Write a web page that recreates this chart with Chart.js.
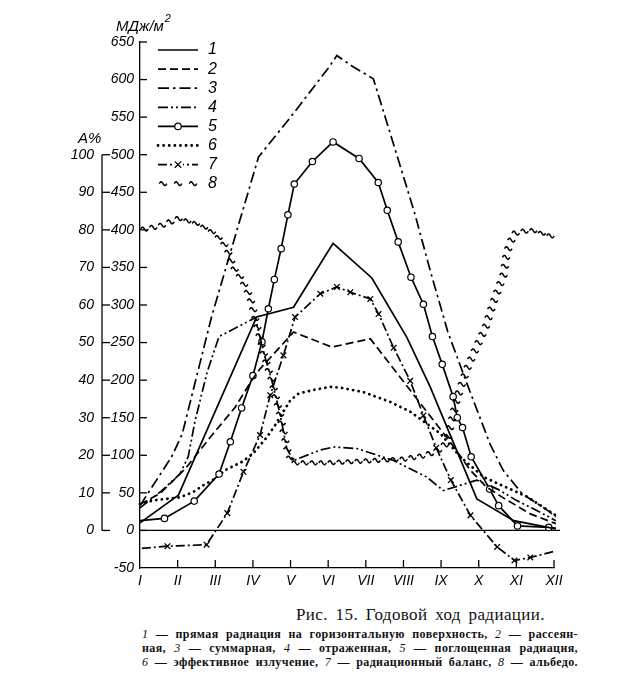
<!DOCTYPE html>
<html lang="ru">
<head>
<meta charset="UTF-8">
<title>Годовой ход радиации</title>
<script src="https://cdn.jsdelivr.net/npm/chart.js"></script>
<style>
    * { margin: 0; padding: 0; box-sizing: border-box; }

    body {
        width: 639px;
        height: 695px;
        background: #fff;
        color: #111;
        position: relative;
        overflow: hidden;
        font-family: "Liberation Serif", serif;
    }

    #wrap { position: absolute; left: 0; top: 0; width: 639px; height: 600px; }

    .title {
        position: absolute;
        left: 296px;
        top: 605px;
        font-size: 17px;
        letter-spacing: 0.4px;
        word-spacing: 3px;
    }

    .cap {
        position: absolute;
        left: 142px;
        width: 436px;
        font-size: 12px;
        font-weight: bold;
        letter-spacing: 0.4px;
        text-align: justify;
        text-align-last: justify;
        line-height: 14px;
    }

    .cap i { font-weight: normal; }
</style>
</head>
<body>

<div id="wrap"><canvas id="chart" width="639" height="600"></canvas></div>

<div class="title">Рис. 15. Годовой ход радиации.</div>
<div class="cap" style="top:627px"><i>1</i> — прямая радиация на горизонтальную поверхность, <i>2</i> — рассеян-</div>
<div class="cap" style="top:641px">ная, <i>3</i> — суммарная, <i>4</i> — отраженная, <i>5</i> — поглощенная радиация,</div>
<div class="cap" style="top:655px"><i>6</i> — эффективное излучение, <i>7</i> — радиационный баланс, <i>8</i> — альбедо.</div>

<script>
    // months on the x axis (position 0 = I ... 11 = XII)
    const months = ['I', 'II', 'III', 'IV', 'V', 'VI', 'VII', 'VIII', 'IX', 'X', 'XI', 'XII'];
    const mjTicks = [0, 50, 100, 150, 200, 250, 300, 350, 400, 450, 500, 550, 600, 650];
    const pctTicks = [0, 10, 20, 30, 40, 50, 60, 70, 80, 90, 100];
    const seriesNames = ['1', '2', '3', '4', '5', '6', '7', '8'];

    // 1 - direct radiation, MJ/m2
    const x1 = [0, 1.02, 3.1, 4.08, 4.52, 5.13, 6.16, 7.09, 7.71, 8.95, 9.93, 11.05];
    const v1 = [10, 47, 284, 297, 333, 382, 336, 257, 191, 42, 13, 2];

    // 2 - diffuse
    const x2 = [0, 0.53, 1.2, 1.9, 2.53, 2.97, 3.19, 4.08, 5.1, 6.12, 7.45, 8.24, 8.78, 9.2, 9.6, 10.37, 11.05];
    const v2 = [35, 49, 82, 126, 164, 200, 215, 264, 244, 255, 169, 118, 80, 58, 45, 22, 9];

    // 3 - total
    const x3 = [0, 0.84, 1.12, 1.9, 2.59, 3.15, 4.0, 5.0, 5.23, 5.63, 6.2, 6.78, 7.31, 7.71, 8.18, 8.69, 9.3, 9.65, 10.15, 10.82, 11.05];
    const v3 = [33, 98, 128, 284, 402, 497, 550, 615, 632, 618, 601, 507, 420, 346, 264, 195, 115, 80, 49, 27, 18];

    // 4 - reflected
    const x4 = [0, 0.58, 1.06, 1.28, 1.46, 1.78, 2.1, 3.06, 3.32, 3.5, 3.72, 3.9, 4.08, 4.79, 5.14, 5.76, 6.74, 7.62, 8.06, 8.95, 9.5, 10.0, 10.64, 11.05];
    const v4 = [30, 53, 75, 98, 145, 210, 258, 283, 231, 200, 155, 109, 93, 107, 111, 109, 93, 71, 53, 67, 55, 40, 24, 13];

    // 5 - absorbed
    const x5 = [0, 0.65, 1.44, 2.1, 2.4, 2.7, 3.0, 3.24, 3.41, 3.57, 3.75, 3.93, 4.1, 4.58, 5.13, 5.82, 6.33, 6.57, 6.86, 7.2, 7.53, 7.77, 8.03, 8.32, 8.43, 8.57, 8.8, 9.29, 9.53, 10.03, 10.86, 11.05];
    const v5 = [13, 16, 39, 75, 118, 163, 206, 251, 295, 334, 375, 420, 461, 491, 517, 495, 463, 426, 384, 337, 301, 258, 221, 178, 150, 137, 98, 55, 33, 6, 4, 3];

    // 6 - effective outgoing radiation
    const x6 = [0, 0.35, 1.06, 1.41, 1.68, 2.0, 2.26, 2.7, 3.0, 3.37, 3.59, 3.99, 4.21, 4.61, 5.05, 5.32, 5.94, 6.65, 7.18, 7.62, 7.98, 8.51, 9.13, 10.28, 11.05];
    const v6 = [35, 40, 44, 51, 60, 69, 80, 91, 102, 124, 140, 173, 182, 187, 191, 190, 184, 171, 158, 142, 129, 98, 71, 45, 20];

    // 7 - radiation balance
    const x7 = [0.05, 0.73, 1.77, 2.32, 2.75, 3.19, 3.46, 3.81, 4.12, 4.79, 5.23, 5.59, 6.12, 6.34, 6.74, 7.18, 7.53, 7.87, 8.26, 8.78, 9.49, 9.95, 10.37, 11.0];
    const v7 = [-24, -21, -19, 23, 78, 127, 180, 233, 284, 315, 324, 317, 308, 288, 243, 199, 153, 110, 67, 20, -22, -40, -36, -28];

    // 8 - albedo, %
    const x8 = [0, 0.53, 1.02, 1.42, 1.86, 2.2, 2.35, 2.48, 2.7, 2.93, 3.05, 3.32, 3.5, 3.72, 3.9, 4.03, 5.0, 6.0, 7.0, 7.6, 8.06, 8.16, 8.42, 8.69, 8.95, 9.18, 9.4, 9.66, 9.75, 9.93, 10.37, 11.05];
    const v8 = [80, 81, 83, 82, 80, 77, 74, 70, 67, 62, 57, 46, 40, 31, 22, 18, 18, 18.5, 19, 20, 22, 24, 35, 43, 49, 54, 61, 68, 74, 79, 80, 78];

    const ink = '#000';
    const italic = (size) => ({ family: 'Liberation Sans', style: 'italic', size: size });

    function pts(xs, vs) {
        return xs.map((x, i) => ({ x: x, y: vs[i] }));
    }

    // markers everywhere except at both ends
    function inner(r) {
        return (c) => (c.dataIndex === 0 || c.dataIndex === c.dataset.data.length - 1) ? 0 : r;
    }

    // one small "~" glyph
    function tilde(ctx, cx, cy) {
        const w = 7.5, a = 1.9;
        ctx.beginPath();
        for (let j = 0; j <= 14; j++) {
            const t = j / 14;
            const px = cx - w / 2 + w * t;
            const py = cy - a * Math.sin(2 * Math.PI * t);
            if (j) ctx.lineTo(px, py); else ctx.moveTo(px, py);
        }
        ctx.stroke();
    }

    // put tildes along a polyline every `step` px
    function stampTildes(ctx, p, step) {
        let carry = step / 2;
        for (let i = 1; i < p.length; i++) {
            const a = p[i - 1], b = p[i];
            const L = Math.hypot(b.x - a.x, b.y - a.y);
            let d = carry;
            while (d <= L) {
                tilde(ctx, a.x + (b.x - a.x) * d / L, a.y + (b.y - a.y) * d / L);
                d += step;
            }
            carry = d - L;
        }
    }

    function line(ctx, xa, ya, xb, yb) {
        ctx.beginPath();
        ctx.moveTo(xa, ya);
        ctx.lineTo(xb, yb);
        ctx.stroke();
    }

    const decor = {
        id: 'decor',
        beforeDatasetsDraw(chart) {
            const ctx = chart.ctx, ca = chart.chartArea, y0 = chart.scales.y.getPixelForValue(0);
            ctx.save();
            ctx.strokeStyle = ink;
            ctx.lineWidth = 1.2;
            line(ctx, ca.left, y0, ca.right + 6, y0);
            ctx.restore();
        },
        afterDatasetsDraw(chart) {
            const ctx = chart.ctx;
            // albedo drawn as a row of tildes
            const meta = chart.getDatasetMeta(7);
            ctx.save();
            ctx.strokeStyle = ink;
            ctx.lineWidth = 1.5;
            stampTildes(ctx, meta.data.map(p => ({ x: p.x, y: p.y })), 9);
            ctx.restore();
        },
        afterDraw(chart) {
            const ctx = chart.ctx, ca = chart.chartArea;
            const sx = chart.scales.x, sy = chart.scales.y, sa = chart.scales.yA;
            ctx.save();
            ctx.strokeStyle = ink;
            ctx.fillStyle = ink;
            ctx.lineWidth = 1.3;

            // inward tick marks
            mjTicks.forEach(v => {
                const p = sy.getPixelForValue(v);
                line(ctx, ca.left, p, ca.left + 7, p);
            });
            months.forEach((m, i) => {
                if (!i) return;
                const p = sx.getPixelForValue(i);
                line(ctx, p, ca.bottom, p, ca.bottom - 8);
            });

            // albedo axis
            const ax = ca.left - 38;
            line(ctx, ax, sa.getPixelForValue(0), ax, sa.getPixelForValue(100));
            ctx.font = 'italic 14px "Liberation Sans"';
            ctx.textAlign = 'right';
            ctx.textBaseline = 'middle';
            pctTicks.forEach(v => {
                const p = sa.getPixelForValue(v);
                line(ctx, ax, p, ax + 8, p);
                ctx.fillText(String(v), ax - 8, p);
            });
            ctx.textAlign = 'left';
            ctx.textBaseline = 'alphabetic';
            ctx.font = 'italic 15px "Liberation Sans"';
            ctx.fillText('A%', ax - 24, sa.getPixelForValue(100) - 12);

            // unit title
            ctx.font = 'italic 15px "Liberation Sans"';
            ctx.fillText('МДж/м', ca.left - 24, 31);
            const w = ctx.measureText('МДж/м').width;
            ctx.font = 'italic 11px "Liberation Sans"';
            ctx.fillText('2', ca.left - 24 + w + 1, 22);

            // legend
            const lx0 = ca.left + 18, lx1 = ca.left + 58;
            chart.data.datasets.forEach((ds, i) => {
                const y = ca.top + 8 + i * 19.1;
                ctx.save();
                ctx.lineWidth = ds.borderWidth || 1.6;
                ctx.setLineDash(ds.borderDash || []);
                ctx.lineCap = ds.borderCapStyle || 'butt';
                if (i === 7) {
                    ctx.lineWidth = 1.5;
                    [lx0 + 5, lx0 + 20, lx0 + 35].forEach(cx => tilde(ctx, cx, y));
                } else {
                    line(ctx, lx0, y, lx1, y);
                }
                ctx.setLineDash([]);
                const cx = (lx0 + lx1) / 2;
                if (i === 4) {
                    ctx.fillStyle = '#fff';
                    ctx.lineWidth = 1.2;
                    ctx.beginPath();
                    ctx.arc(cx, y, 3.2, 0, 2 * Math.PI);
                    ctx.fill();
                    ctx.stroke();
                }
                if (i === 6) {
                    ctx.fillStyle = '#fff';
                    ctx.fillRect(cx - 5, y - 4, 10, 8);
                    ctx.lineWidth = 1.3;
                    line(ctx, cx - 3.2, y - 3.2, cx + 3.2, y + 3.2);
                    line(ctx, cx - 3.2, y + 3.2, cx + 3.2, y - 3.2);
                }
                ctx.restore();
                ctx.font = 'italic 16px "Liberation Sans"';
                ctx.textBaseline = 'middle';
                ctx.fillText(seriesNames[i], lx1 + 10, y);
            });
            ctx.restore();
        }
    };

    const common = {
        borderColor: ink,
        borderWidth: 1.7,
        backgroundColor: ink,
        pointRadius: 0,
        tension: 0,
        fill: false,
        clip: false
    };

    const datasets = [
        Object.assign({}, common, { label: seriesNames[0], data: pts(x1, v1) }),
        Object.assign({}, common, { label: seriesNames[1], data: pts(x2, v2), borderDash: [8, 4] }),
        Object.assign({}, common, { label: seriesNames[2], data: pts(x3, v3), borderDash: [11, 4, 2.5, 4] }),
        Object.assign({}, common, { label: seriesNames[3], data: pts(x4, v4), borderDash: [10, 3, 2, 3, 2, 3] }),
        Object.assign({}, common, {
            label: seriesNames[4], data: pts(x5, v5),
            pointStyle: 'circle', pointRadius: inner(3.2),
            pointBackgroundColor: '#fff', pointBorderColor: ink, pointBorderWidth: 1.2
        }),
        Object.assign({}, common, {
            label: seriesNames[5], data: pts(x6, v6),
            borderDash: [0.1, 5.5], borderCapStyle: 'round', borderWidth: 2.8
        }),
        Object.assign({}, common, {
            label: seriesNames[6], data: pts(x7, v7), borderDash: [9, 3, 2, 3],
            pointStyle: 'crossRot', pointRadius: inner(4), pointBorderColor: ink, pointBorderWidth: 1.3
        }),
        Object.assign({}, common, {
            label: seriesNames[7], data: pts(x8, v8), yAxisID: 'yA',
            showLine: false, borderWidth: 0
        })
    ];

    new Chart(document.getElementById('chart'), {
        type: 'line',
        data: { datasets: datasets },
        options: {
            responsive: false,
            animation: false,
            layout: { padding: { left: 80, right: 85, top: 42, bottom: 2 } },
            plugins: {
                legend: { display: false },
                tooltip: { enabled: false }
            },
            scales: {
                x: {
                    type: 'linear',
                    min: 0,
                    max: 11,
                    grid: { display: false, drawTicks: false },
                    border: { color: ink, width: 1.3 },
                    ticks: {
                        stepSize: 1,
                        autoSkip: false,
                        maxRotation: 0,
                        padding: 5,
                        color: ink,
                        font: italic(14),
                        callback: (v) => months[v]
                    },
                    afterFit: (s) => { s.height = 30; }
                },
                y: {
                    type: 'linear',
                    min: -50,
                    max: 650,
                    grid: { display: false, drawTicks: false },
                    border: { color: ink, width: 1.3 },
                    ticks: { stepSize: 50, padding: 6, color: ink, font: italic(14) },
                    afterFit: (s) => { s.width = 60; }
                },
                yA: { type: 'linear', display: false, min: -10, max: 130 }
            }
        },
        plugins: [decor]
    });
</script>

</body>
</html>
